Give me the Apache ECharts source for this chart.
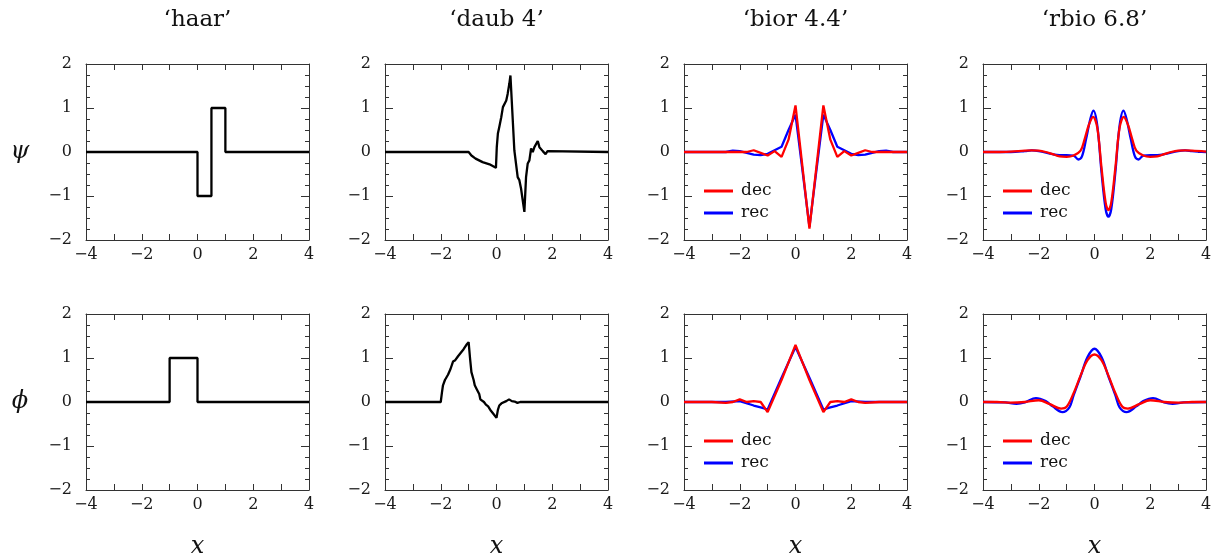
<!DOCTYPE html>
<html>
<head>
<meta charset="utf-8">
<script src="https://cdn.jsdelivr.net/npm/echarts@6/dist/echarts.min.js"></script>
<style>html,body{margin:0;padding:0;background:#fff;}#chart{width:1215px;height:559px;}</style>
</head>
<body>
<div id="chart"></div>
<script>
// ---- data ----
const titles = ['‘haar’', '‘daub 4’', '‘bior 4.4’', '‘rbio 6.8’'];
const rowLabels = ['ψ', 'ϕ'];
const xLabel = 'x';
const legendNames = ['dec', 'rec'];

const haarPsi = [[-4,0],[0,0],[0,-1],[0.5,-1],[0.5,1],[1,1],[1,0],[4,0]];
const haarPhi = [[-4,0],[-1,0],[-1,1],[0,1],[0,0],[4,0]];

const daubPsi = [[-4,0],[-1,0],[-0.9,-0.08],[-0.75,-0.15],[-0.5,-0.23],[-0.25,-0.28],[-0.02,-0.36],
  [0.01,0.11],[0.05,0.42],[0.1,0.57],[0.17,0.79],[0.23,1.02],[0.29,1.06],[0.35,1.17],[0.4,1.32],[0.46,1.55],[0.5,1.74],
  [0.64,0.04],[0.76,-0.57],[0.82,-0.64],[0.88,-0.83],[1.0,-1.36],[1.06,-0.57],[1.12,-0.26],[1.18,-0.19],[1.24,0.08],
  [1.3,0.0],[1.36,0.11],[1.48,0.25],[1.54,0.11],[1.66,0.02],[1.76,-0.05],[1.83,0.02],[1.9,0],[4,0]];
const daubPhi = [[-4,0],[-2,0],[-1.96,0.2],[-1.92,0.38],[-1.85,0.5],[-1.74,0.62],[-1.65,0.75],[-1.56,0.92],[-1.48,0.95],
  [-1.38,1.04],[-1.28,1.12],[-1.18,1.2],[-1.08,1.3],[-1.0,1.36],[-0.95,1.0],[-0.9,0.68],[-0.82,0.5],[-0.78,0.38],
  [-0.7,0.28],[-0.62,0.18],[-0.58,0.06],[-0.52,0.04],[-0.45,0.0],[-0.38,-0.06],[-0.3,-0.1],[-0.2,-0.2],[-0.1,-0.28],
  [0,-0.36],[0.05,-0.18],[0.1,-0.08],[0.18,-0.03],[0.25,0.0],[0.35,0.02],[0.45,0.06],[0.55,0.02],[0.65,0.01],
  [0.75,-0.02],[0.85,0.0],[4,0]];

const biorPsiDec = [[-4,0],[-2,0],[-1.75,0.0],[-1.5,0.04],[-1.25,-0.02],[-1,-0.08],[-0.75,0.02],[-0.5,-0.11],[-0.25,0.28],
  [0,1.06],[0.5,-1.74],[1,1.06],[1.25,0.28],[1.5,-0.11],[1.75,0.02],[2,-0.08],[2.25,-0.02],[2.5,0.04],[2.75,0.0],[3,0],[4,0]];
const biorPsiRec = [[-4,0],[-2.5,0],[-2.25,0.03],[-2,0.02],[-1.75,-0.02],[-1.5,-0.06],[-1.25,-0.07],[-1,-0.04],[-0.75,0.04],
  [-0.5,0.12],[-0.25,0.5],[0,0.85],[0.25,-0.42],[0.5,-1.7],[0.75,-0.42],[1,0.85],[1.25,0.5],[1.5,0.12],[1.75,0.04],[2,-0.04],
  [2.25,-0.07],[2.5,-0.06],[2.75,-0.02],[3,0.02],[3.25,0.03],[3.5,0],[4,0]];
const biorPhiDec = [[-4,0],[-3,0],[-2.5,-0.02],[-2.25,0.0],[-2,0.06],[-1.75,0.0],[-1.5,0.02],[-1.25,0.0],[-1,-0.23],
  [-0.5,0.5],[0,1.3],[0.5,0.5],[1,-0.23],[1.25,0.0],[1.5,0.02],[1.75,0.0],[2,0.06],[2.25,0.0],[2.5,-0.02],[3,0],[4,0]];
const biorPhiRec = [[-4,0],[-2.5,0],[-2,0.02],[-1.5,-0.08],[-1.25,-0.12],[-1,-0.17],[-0.5,0.55],[0,1.25],[0.5,0.55],
  [1,-0.17],[1.25,-0.12],[1.5,-0.08],[2,0.02],[2.5,0],[4,0]];

const rbioPsiDec = [[-4,0],[-3.5,0],[-3,0.01],[-2.5,0.03],[-2.25,0.035],[-2,0.03],[-1.75,0.0],[-1.5,-0.05],[-1.25,-0.1],
  [-1,-0.11],[-0.75,-0.08],[-0.5,0.03],[-0.35,0.3],[-0.2,0.62],[-0.05,0.8],[0.1,0.55],[0.25,-0.35],[0.4,-1.15],[0.5,-1.32],
  [0.6,-1.15],[0.75,-0.35],[0.9,0.55],[1.05,0.8],[1.2,0.62],[1.35,0.3],[1.5,0.03],[1.75,-0.08],[2,-0.11],[2.25,-0.1],
  [2.5,-0.05],[2.75,0.0],[3,0.03],[3.25,0.035],[3.5,0.03],[4,0.01]];
const rbioPsiRec = [[-4,0],[-3,0],[-2.5,0.02],[-2.25,0.035],[-2,0.02],[-1.5,-0.05],[-1.25,-0.07],[-1,-0.07],[-0.75,-0.08],
  [-0.58,-0.17],[-0.45,-0.1],[-0.3,0.3],[-0.15,0.75],[-0.04,0.94],[0.1,0.6],[0.25,-0.45],[0.4,-1.3],[0.5,-1.47],
  [0.6,-1.3],[0.75,-0.45],[0.9,0.6],[1.04,0.94],[1.15,0.75],[1.3,0.3],[1.45,-0.1],[1.58,-0.17],[1.75,-0.08],[2,-0.07],
  [2.25,-0.07],[2.5,-0.05],[3,0.02],[3.25,0.035],[3.5,0.02],[4,0]];
const rbioPhiDec = [[-4,0],[-3.5,0],[-3,-0.015],[-2.5,0.0],[-2,0.04],[-1.6,-0.05],[-1.2,-0.15],[-1,-0.11],[-0.75,0.2],
  [-0.5,0.6],[-0.25,0.95],[0,1.08],[0.25,0.95],[0.5,0.6],[0.75,0.2],[1,-0.11],[1.2,-0.15],[1.6,-0.05],[2,0.04],
  [2.5,0.0],[3,-0.015],[3.5,0],[4,0]];
const rbioPhiRec = [[-4,0],[-3.2,-0.01],[-2.8,-0.04],[-2.5,-0.01],[-2.1,0.09],[-1.75,0.02],[-1.5,-0.1],[-1.15,-0.23],
  [-0.9,-0.12],[-0.75,0.15],[-0.5,0.58],[-0.25,1.02],[0,1.21],[0.25,1.02],[0.5,0.58],[0.75,0.15],[0.9,-0.12],[1.15,-0.23],
  [1.5,-0.1],[1.75,0.02],[2.1,0.09],[2.5,-0.01],[2.8,-0.04],[3.2,-0.01],[4,0]];

// ---- layout ----
const FONT = 'DejaVu Serif';
const colLeft = [86, 385, 684, 983];
const rowTop = [64, 314];
const W = 223, H = 176;
const AX = '#333';

const panels = [
  [{data: haarPsi, color: '#000'}],
  [{data: daubPsi, color: '#000'}],
  [{name: 'rec', data: biorPsiRec, color: '#0000ff'}, {name: 'dec', data: biorPsiDec, color: '#ff0000'}],
  [{name: 'rec', data: rbioPsiRec, color: '#0000ff', smooth: true}, {name: 'dec', data: rbioPsiDec, color: '#ff0000', smooth: true}],
  [{data: haarPhi, color: '#000'}],
  [{data: daubPhi, color: '#000'}],
  [{name: 'rec', data: biorPhiRec, color: '#0000ff'}, {name: 'dec', data: biorPhiDec, color: '#ff0000'}],
  [{name: 'rec', data: rbioPhiRec, color: '#0000ff', smooth: true}, {name: 'dec', data: rbioPhiDec, color: '#ff0000', smooth: true}]
];

const fmt = v => (v < 0 ? '\u2212' + (-v) : String(v));
const grid = [], xAxis = [], yAxis = [], series = [], legend = [], graphic = [];

panels.forEach((lines, i) => {
  const r = Math.floor(i / 4), c = i % 4;
  grid.push({left: colLeft[c], top: rowTop[r], width: W, height: H, containLabel: false});
  ['bottom', 'top'].forEach((pos, k) => {
    xAxis.push({
      gridIndex: i, type: 'value', min: -4, max: 4, interval: 2, position: pos,
      axisLine: {show: true, onZero: false, lineStyle: {color: AX, width: 1}},
      axisTick: {show: true, inside: true, length: 6, lineStyle: {color: AX}},
      minorTick: {show: true, splitNumber: 2, length: 6, lineStyle: {color: AX}},
      axisLabel: {show: k === 0, margin: 7, fontFamily: FONT, fontSize: 16, color: '#1a1a1a', formatter: fmt},
      splitLine: {show: false}, minorSplitLine: {show: false}
    });
  });
  ['left', 'right'].forEach((pos, k) => {
    yAxis.push({
      gridIndex: i, type: 'value', min: -2, max: 2, interval: 1, position: pos,
      axisLine: {show: true, onZero: false, lineStyle: {color: AX, width: 1}},
      axisTick: {show: true, inside: true, length: 8, lineStyle: {color: AX}},
      minorTick: {show: true, splitNumber: 4, length: 4, lineStyle: {color: AX}},
      axisLabel: {show: k === 0, margin: 14, fontFamily: FONT, fontSize: 16, color: '#1a1a1a', formatter: fmt},
      splitLine: {show: false}, minorSplitLine: {show: false}
    });
  });
  lines.forEach(l => {
    series.push({
      type: 'line', name: l.name, xAxisIndex: 2 * i, yAxisIndex: 2 * i, data: l.data,
      symbol: 'none', showSymbol: false, smooth: l.smooth ? 0.35 : false, color: l.color,
      lineStyle: {color: l.color, width: 2.3}, itemStyle: {color: l.color}, animation: false, z: 3
    });
  });
  if (lines.length > 1) {
    legend.push({
      data: legendNames, orient: 'vertical', left: colLeft[c] + 20, top: rowTop[r] + 116,
      itemWidth: 29, itemHeight: 3, itemGap: 0, icon: 'rect', padding: 0, selectedMode: false,
      textStyle: {fontFamily: FONT, fontSize: 17, lineHeight: 22, color: '#111', padding: [0, 0, 0, 3]}
    });
  }
});

titles.forEach((t, c) => {
  graphic.push({type: 'text', x: colLeft[c] + W / 2, y: 20,
    style: {text: t, x: 0, y: 0, align: 'center', verticalAlign: 'middle',
      font: '23px "' + FONT + '"', fill: '#111'}});
  graphic.push({type: 'text', x: colLeft[c] + W / 2, y: 547,
    style: {text: xLabel, x: 0, y: 0, align: 'center', verticalAlign: 'middle',
      font: 'italic 24px "' + FONT + '"', fill: '#111'}});
});
rowLabels.forEach((t, r) => {
  graphic.push({type: 'text', x: 20, y: rowTop[r] + H / 2,
    style: {text: t, x: 0, y: 0, align: 'center', verticalAlign: 'middle',
      font: 'italic 24px "' + FONT + '"', fill: '#111'}});
});

const chart = echarts.init(document.getElementById('chart'), null, {renderer: 'canvas'});
chart.setOption({animation: false, backgroundColor: '#fff', grid, xAxis, yAxis, series, legend, graphic});
</script>
</body>
</html>
